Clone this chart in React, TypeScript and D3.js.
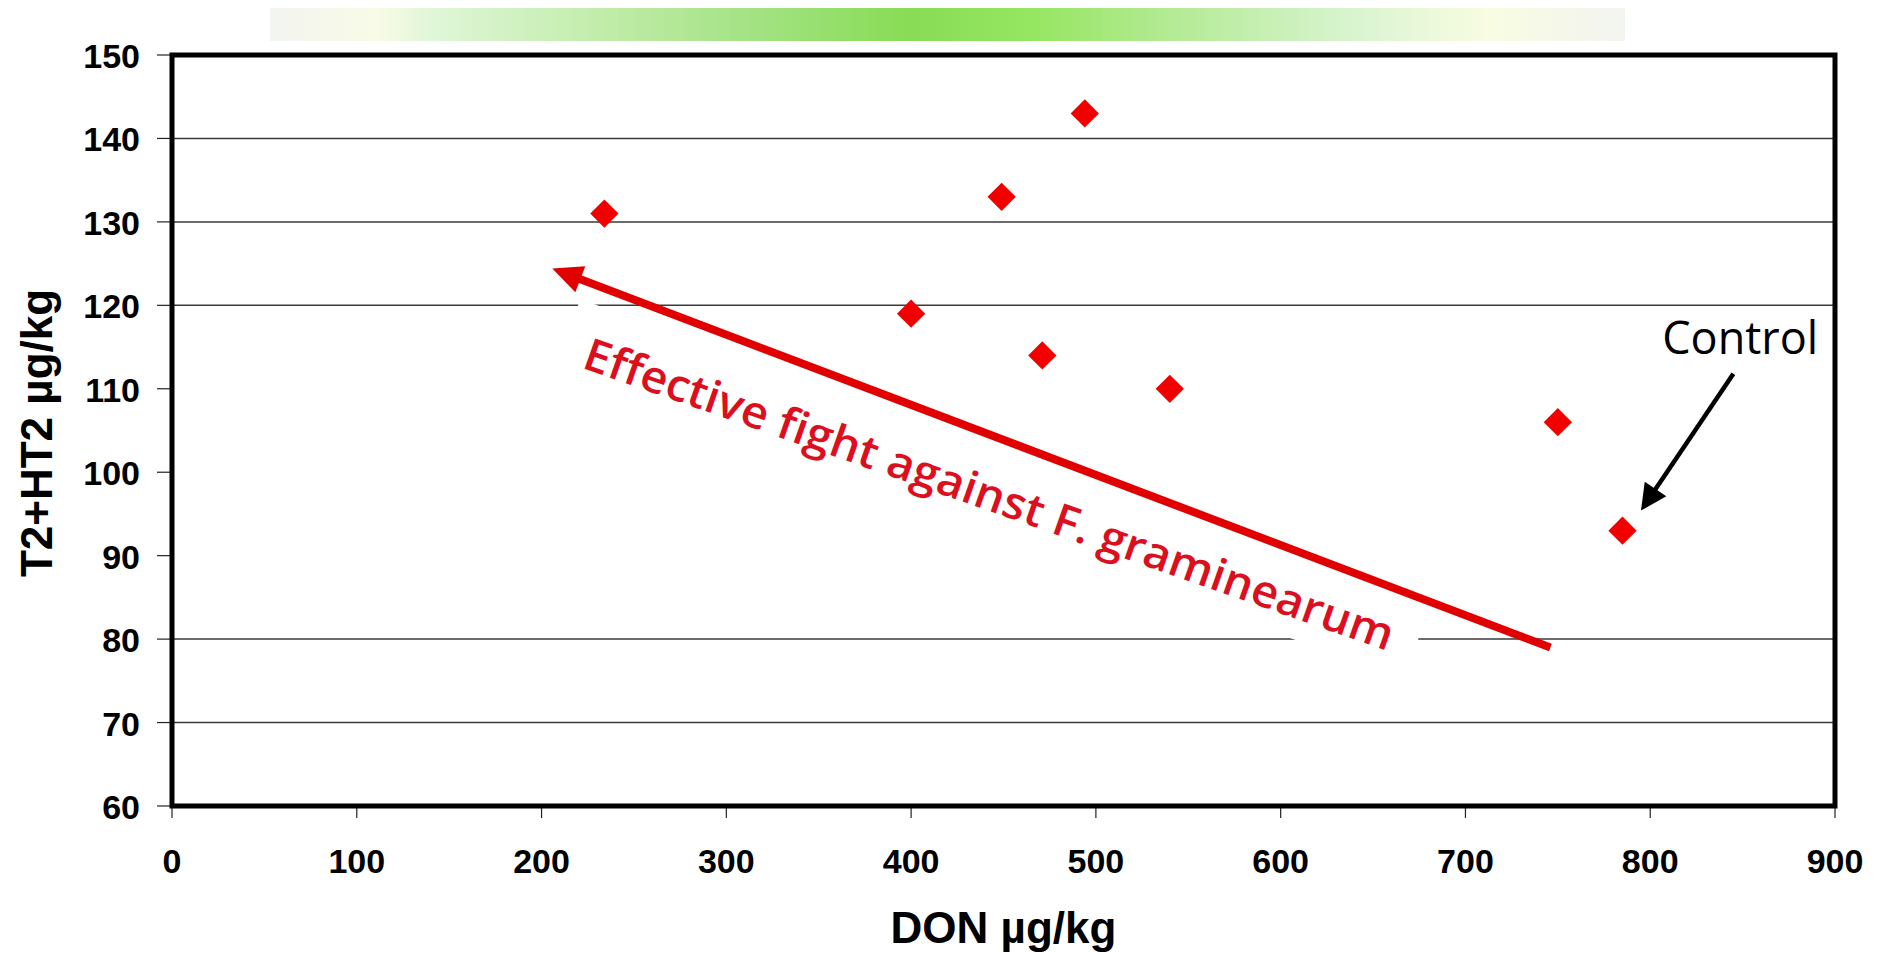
import { useRef, useEffect } from 'react';
import * as d3 from 'd3';

// DON vs T2+HT2 per treatment (µg/kg)
const donValues = [234, 400, 449, 471, 494, 540, 750, 785];
const t2ht2Values = [131, 119, 133, 114, 143, 110, 106, 93];

const xTicks = [0, 100, 200, 300, 400, 500, 600, 700, 800, 900];
const yTicks = [60, 70, 80, 90, 100, 110, 120, 130, 140, 150];
const gridValues = [70, 80, 120, 130, 140];

const xTitle = 'DON µg/kg';
const yTitle = 'T2+HT2 µg/kg';
const trendLabel = 'Effective fight against F. graminearum';
const controlLabel = 'Control';

// annotation anchors, in data units
const trendArrow = { from: [746, 79], to: [205.8, 124.4] };
const trendText = { from: [221.5, 112.8], to: [658.2, 78.8] };
const controlText = [806.5, 114.2];
const controlArrow = { from: [845, 111.8], to: [795, 95.4] };

const W = 1881;
const H = 953;

function drawArrow(
  g: d3.Selection<SVGGElement, unknown, null, undefined>,
  x1: number, y1: number, x2: number, y2: number,
  color: string, width: number, headLen: number, headHalf: number,
) {
  const a = Math.atan2(y2 - y1, x2 - x1);
  const c = Math.cos(a);
  const s = Math.sin(a);
  const bx = x2 - headLen * c;
  const by = y2 - headLen * s;
  g.append('line')
    .attr('x1', x1).attr('y1', y1)
    .attr('x2', bx + c * 2).attr('y2', by + s * 2)
    .attr('stroke', color)
    .attr('stroke-width', width);
  g.append('polygon')
    .attr('points', [
      [x2, y2],
      [bx - s * headHalf, by + c * headHalf],
      [bx + s * headHalf, by - c * headHalf],
    ].map(p => p.join(',')).join(' '))
    .attr('fill', color);
}

function ScatterChart() {
  const ref = useRef<SVGSVGElement | null>(null);

  useEffect(() => {
    const svg = d3.select(ref.current);
    svg.selectAll('*').remove();

    const margin = { top: 55, right: 46, bottom: 147, left: 172 };
    const x = d3.scaleLinear().domain([0, 900]).range([margin.left, W - margin.right]);
    const y = d3.scaleLinear().domain([60, 150]).range([H - margin.bottom, margin.top]);

    // header gradient strip
    const defs = svg.append('defs');
    const grad = defs.append('linearGradient').attr('id', 'hdr');
    [
      [0, '#f3f5f1'], [0.08, '#f8fbe6'], [0.12, '#e0f6d8'], [0.25, '#c0eca8'],
      [0.36, '#a2e282'], [0.47, '#88dc55'], [0.56, '#95e660'], [0.66, '#b2ea92'],
      [0.8, '#d9f4d0'], [0.9, '#f9fce2'], [1, '#f2f4f1'],
    ].forEach(([o, c]) => grad.append('stop').attr('offset', o as number).attr('stop-color', c as string));
    svg.append('rect')
      .attr('x', 270).attr('y', 8).attr('width', 1355).attr('height', 33)
      .attr('fill', 'url(#hdr)');

    const g = svg.append('g');

    // grid
    g.selectAll('line.grid')
      .data(gridValues)
      .join('line')
      .attr('class', 'grid')
      .attr('x1', x(0)).attr('x2', x(900))
      .attr('y1', d => y(d)).attr('y2', d => y(d))
      .attr('stroke', '#3a3a3a')
      .attr('stroke-width', 1.5);

    // white box behind the slanted label
    const [tx1, ty1] = [x(trendText.from[0]), y(trendText.from[1])];
    const [tx2, ty2] = [x(trendText.to[0]), y(trendText.to[1])];
    const tAngle = (Math.atan2(ty2 - ty1, tx2 - tx1) * 180) / Math.PI;
    const tLen = Math.hypot(tx2 - tx1, ty2 - ty1);
    const tg = g.append('g').attr('transform', `translate(${tx1},${ty1}) rotate(${tAngle})`);
    tg.append('rect')
      .attr('x', -23).attr('y', -62)
      .attr('width', tLen + 48).attr('height', 84)
      .attr('fill', '#fff');

    // ticks
    g.selectAll('line.yt')
      .data(yTicks)
      .join('line')
      .attr('class', 'yt')
      .attr('x1', x(0) - 15).attr('x2', x(0))
      .attr('y1', d => y(d)).attr('y2', d => y(d))
      .attr('stroke', '#222').attr('stroke-width', 1.2);
    g.selectAll('line.xt')
      .data(xTicks)
      .join('line')
      .attr('class', 'xt')
      .attr('x1', d => x(d)).attr('x2', d => x(d))
      .attr('y1', y(60)).attr('y2', y(60) + 12)
      .attr('stroke', '#222').attr('stroke-width', 1.2);

    // frame
    g.append('rect')
      .attr('x', x(0)).attr('y', y(150))
      .attr('width', x(900) - x(0)).attr('height', y(60) - y(150))
      .attr('fill', 'none')
      .attr('stroke', '#000')
      .attr('stroke-width', 5);

    // tick labels
    g.selectAll('text.yl')
      .data(yTicks)
      .join('text')
      .attr('class', 'yl')
      .attr('x', 140)
      .attr('y', d => y(d) + 13)
      .attr('text-anchor', 'end')
      .attr('font-family', 'Liberation Sans, Arial, sans-serif')
      .attr('font-weight', 'bold')
      .attr('font-size', 34)
      .text(d => d);
    g.selectAll('text.xl')
      .data(xTicks)
      .join('text')
      .attr('class', 'xl')
      .attr('x', d => x(d))
      .attr('y', 873)
      .attr('text-anchor', 'middle')
      .attr('font-family', 'Liberation Sans, Arial, sans-serif')
      .attr('font-weight', 'bold')
      .attr('font-size', 34)
      .text(d => d);

    // axis titles
    g.append('text')
      .attr('x', (x(0) + x(900)) / 2)
      .attr('y', 943)
      .attr('text-anchor', 'middle')
      .attr('font-family', 'Liberation Sans, Arial, sans-serif')
      .attr('font-weight', 'bold')
      .attr('font-size', 44)
      .text(xTitle);
    g.append('text')
      .attr('transform', 'translate(52,433) rotate(-90)')
      .attr('text-anchor', 'middle')
      .attr('font-family', 'Liberation Sans, Arial, sans-serif')
      .attr('font-weight', 'bold')
      .attr('font-size', 44)
      .text(yTitle);

    // slanted label
    tg.append('text')
      .attr('x', 0).attr('y', 2)
      .attr('font-family', 'Open Sans, sans-serif')
      .attr('font-size', 45)
      .attr('font-weight', 600)
      .attr('fill', '#dc0f1e')
      .attr('textLength', tLen)
      .attr('lengthAdjust', 'spacingAndGlyphs')
      .text(trendLabel);

    // trend arrow
    drawArrow(
      g,
      x(trendArrow.from[0]), y(trendArrow.from[1]),
      x(trendArrow.to[0]), y(trendArrow.to[1]),
      '#e00000', 8, 30, 14,
    );

    // points
    const diamond = d3.symbol().type(d3.symbolSquare).size(400)();
    g.selectAll('path.pt')
      .data(donValues)
      .join('path')
      .attr('class', 'pt')
      .attr('d', diamond)
      .attr('transform', (d, i) => `translate(${x(d)},${y(t2ht2Values[i])}) rotate(45)`)
      .attr('fill', '#f20000');

    // control annotation
    g.append('text')
      .attr('x', x(controlText[0]))
      .attr('y', y(controlText[1]))
      .attr('font-family', 'Open Sans, sans-serif')
      .attr('font-size', 45)
      .attr('fill', '#000')
      .text(controlLabel);
    drawArrow(
      g,
      x(controlArrow.from[0]), y(controlArrow.from[1]),
      x(controlArrow.to[0]), y(controlArrow.to[1]),
      '#000', 4.5, 26, 13,
    );
  }, []);

  return (
    <svg
      ref={ref}
      width={W}
      height={H}
      style={{ position: 'absolute', left: 0, top: 0, background: '#fff' }}
    />
  );
}

export default function App() {
  return <ScatterChart />;
}
